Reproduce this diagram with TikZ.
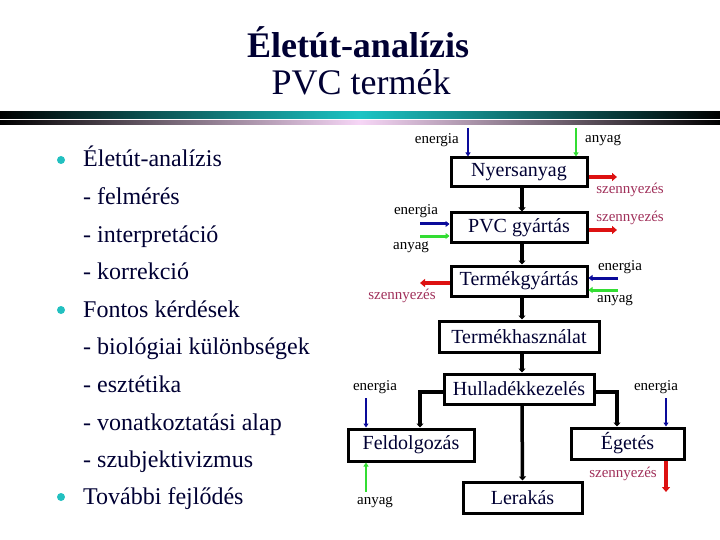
\documentclass[tikz,border=0pt]{standalone}
\usepackage{fontspec}
\setmainfont{Liberation Serif}
\usetikzlibrary{arrows.meta}
\definecolor{navyt}{HTML}{000033}
\definecolor{tealbar}{HTML}{1CC4C4}
\definecolor{pinkbar}{HTML}{F6D6F6}
\definecolor{bulletc}{HTML}{22C0C0}
\definecolor{redarr}{HTML}{DD1111}
\definecolor{bluearr}{HTML}{0A0A9A}
\definecolor{greenarr}{HTML}{33DD33}
\definecolor{szc}{HTML}{A0305A}
\begin{document}
\begin{tikzpicture}[x=1pt,y=-1pt,
  box/.style={draw, line width=3pt, fill=white, inner sep=0pt, text=navyt,
    font=\fontsize{20}{24}\selectfont},
  lbl/.style={inner sep=0pt, font=\fontsize{15}{17}\selectfont},
  szl/.style={lbl, text=szc},
  listtxt/.style={anchor=base west, inner sep=0pt, text=navyt, font=\fontsize{24}{28}\selectfont},
  blk/.style={line width=3.5pt, -{Triangle[length=4pt,width=7pt]}},
  redl/.style={draw=redarr, line width=4pt, -{Triangle[length=5pt,width=8pt]}},
  bluev/.style={draw=bluearr, line width=2pt, -{Triangle[length=4pt,width=5pt]}},
  blueh/.style={draw=bluearr, line width=3pt, -{Triangle[length=4pt,width=6pt]}},
  greenv/.style={draw=greenarr, line width=2pt, -{Triangle[length=4pt,width=5pt]}},
  greenh/.style={draw=greenarr, line width=3pt, -{Triangle[length=4pt,width=6pt]}},
  bul/.style={circle, fill=bulletc, inner sep=0pt, minimum size=8pt}
]
\useasboundingbox (0,0) rectangle (720,540);
% title
\node[inner sep=0pt, text=navyt, font=\fontsize{36}{40}\selectfont\bfseries] (t1) at (358,42) {Életút-analízis};
\node[inner sep=0pt, text=navyt, font=\fontsize{36}{40}\selectfont] (t2) at (361,82) {PVC termék};
% bars
\shade[left color=black, right color=black, middle color=tealbar] (0,112) rectangle (720,119);
\shade[left color=black, right color=black, middle color=pinkbar] (0,121) rectangle (720,125);
% list
\node[bul] (b1) at (61,160) {};
\node[bul] (b2) at (61,310) {};
\node[bul] (b3) at (61,497) {};
\node[listtxt] (l1) at (83,167) {Életút-analízis};
\node[listtxt] (l2) at (83,205) {- felmérés};
\node[listtxt] (l3) at (83,242) {- interpretáció};
\node[listtxt] (l4) at (83,279) {- korrekció};
\node[listtxt] (l5) at (83,317) {Fontos kérdések};
\node[listtxt] (l6) at (83,354) {- biológiai különbségek};
\node[listtxt] (l7) at (83,392) {- esztétika};
\node[listtxt] (l8) at (83,430) {- vonatkoztatási alap};
\node[listtxt] (l9) at (83,467) {- szubjektivizmus};
\node[listtxt] (l10) at (83,504) {További fejlődés};
% boxes
\node[box, minimum width=136pt, minimum height=29pt] (N) at (519,172.5) {Nyersanyag};
\node[box, minimum width=136pt, minimum height=29pt] (P) at (519,227.5) {PVC gyártás};
\node[box, minimum width=136pt, minimum height=30pt] (T) at (519,281) {Termékgyártás};
\node[box, minimum width=160pt, minimum height=31pt] (U) at (519,336.5) {Termékhasználat};
\node[box, minimum width=150pt, minimum height=30pt] (H) at (519,389) {Hulladékkezelés};
\node[box, minimum width=126pt, minimum height=32pt] (F) at (411,445) {Feldolgozás};
\node[box, minimum width=113pt, minimum height=31pt] (E) at (627.5,443.5) {Égetés};
\node[box, minimum width=119pt, minimum height=31pt] (L) at (522.5,497.5) {Lerakás};
% main connectors
\draw[blk] ([xshift=3pt]N.south) -- ([xshift=3pt]P.north);
\draw[blk] ([xshift=3pt]P.south) -- ([xshift=3pt]T.north);
\draw[blk] ([xshift=3pt]T.south) -- ([xshift=3pt]U.north);
\draw[blk] ([xshift=3pt]U.south) -- ([xshift=3pt]H.north);
\draw[blk] ([xshift=3pt]H.south) -- (L.north);
\draw[blk] ([yshift=-3pt]H.west) -| ([xshift=9pt]F.north);
\draw[blk] ([yshift=-3pt]H.east) -| ([xshift=-10.5pt]E.north);
% Nyersanyag inputs/outputs
\coordinate (n1) at (468,128);
\coordinate (n2) at (576,128);
\coordinate (n3) at (617,177);
\draw[bluev] (n1) -- (n1 |- N.north);
\draw[greenv] (n2) -- (n2 |- N.north);
\draw[redl] (n3 -| N.east) -- (n3);
\node[lbl, anchor=east] (ne) at (459,140) {energia};
\node[lbl, anchor=west] (na) at (585,140) {anyag};
\node[szl] (ns) at (630,190) {szennyezés};
% PVC
\coordinate (p1) at (420,224);
\coordinate (p2) at (420,236);
\coordinate (p3) at (617,230);
\draw[blueh] (p1) -- (p1 -| P.west);
\draw[greenh] (p2) -- (p2 -| P.west);
\draw[redl] (p3 -| P.east) -- (p3);
\node[lbl] (pe) at (416,211) {energia};
\node[lbl] (pa) at (411,247) {anyag};
\node[szl] (ps) at (630,218) {szennyezés};
% Termekgyartas
\coordinate (g1) at (618,278);
\coordinate (g2) at (618,290);
\coordinate (g3) at (420,283);
\draw[blueh] (g1) -- (g1 -| T.east);
\draw[greenh] (g2) -- (g2 -| T.east);
\draw[redl] (g3 -| T.west) -- (g3);
\node[lbl] (ge) at (620,267) {energia};
\node[lbl] (ga) at (615,300) {anyag};
\node[szl] (gs) at (402,296) {szennyezés};
% Feldolgozas
\coordinate (f1) at (366,398);
\coordinate (f2) at (366,492);
\draw[bluev] (f1) -- (f1 |- F.north);
\draw[greenv] (f2) -- (f2 |- F.south);
\node[lbl] (fe) at (375,387) {energia};
\node[lbl] (fa) at (375,502) {anyag};
% Egetes
\coordinate (e1) at (666,398);
\coordinate (e2) at (666,492);
\draw[bluev] (e1) -- (e1 |- E.north);
\draw[redl] (e2 |- E.south) -- (e2);
\node[lbl] (ee) at (656,387) {energia};
\node[szl] (es) at (623,474) {szennyezés};
\end{tikzpicture}
\end{document}
